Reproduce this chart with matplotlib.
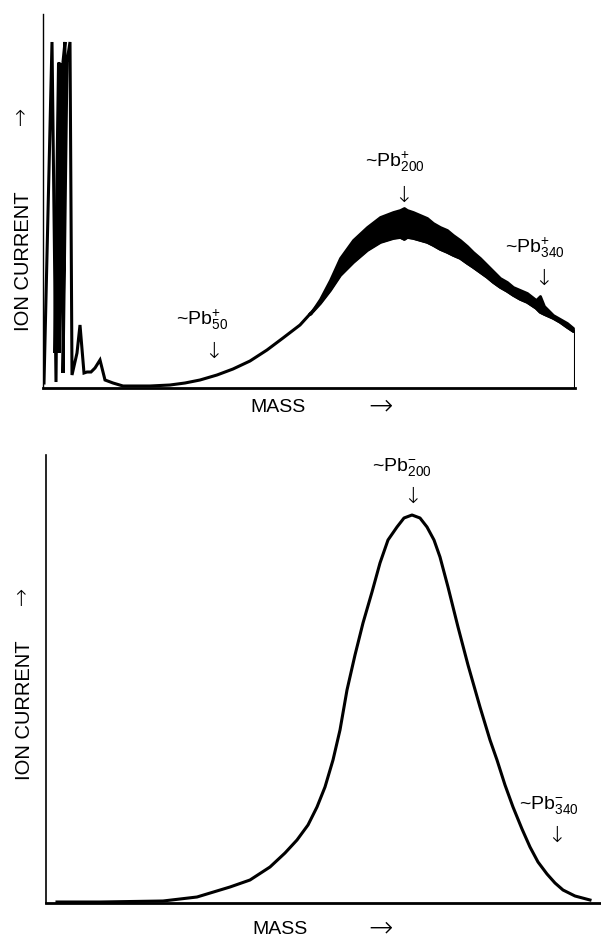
import numpy as np
import matplotlib
matplotlib.use("Agg")
import matplotlib.pyplot as plt

plt.rcParams['font.family'] = ['Liberation Sans', 'DejaVu Sans']
plt.rcParams['mathtext.fontset'] = 'custom'
plt.rcParams['mathtext.rm'] = 'Liberation Sans'
plt.rcParams['mathtext.it'] = 'Liberation Sans'

# --- positive ions (top) : arbitrary mass / current units ---
pos_mass = [1, 9, 13, 16, 18, 20, 22, 20, 24, 27, 29, 34, 37, 41, 44, 48, 52, 57, 62,
            70, 80, 107, 127, 142, 157, 174, 190, 207, 224, 240, 257, 267]
pos_curr = [5, 346, 6, 326, 88, 326, 346, 15, 326, 346, 13, 35, 63, 15, 16, 16, 20, 28, 8,
            5, 2, 2, 3, 5, 8, 13, 19, 27, 38, 50, 63, 74]

# dense unresolved bundle of low-mass peaks
bundle_mass = [10, 14, 25, 18]
bundle_curr = [35, 325, 325, 35]

band_mass = [267, 277, 287, 297, 310, 324, 337, 350, 357, 361, 364, 370, 377, 384, 390, 397,
             404, 410, 417, 424, 430, 437, 444, 450, 457, 464, 470, 477, 484, 493, 497,
             501, 510, 517, 524, 530]
band_upper = [74, 89, 108, 130, 148, 161, 171, 176, 178, 180, 178, 176, 173, 170, 165, 161,
              158, 153, 148, 142, 136, 130, 123, 117, 110, 106, 101, 98, 95, 88, 92,
              82, 73, 69, 65, 60]
band_lower = [74, 85, 98, 113, 126, 138, 146, 150, 151, 149, 151, 150, 148, 146, 143, 139,
              136, 133, 130, 125, 121, 116, 111, 106, 101, 97, 93, 89, 86, 80, 76,
              74, 70, 66, 61, 57]
end_mass = [530, 532, 532]
end_curr = [57, 57, 0]

# --- negative ions (bottom) ---
neg_mass = [11, 54, 117, 151, 184, 204, 224, 239, 251, 262, 271, 279, 287, 294, 301, 309,
            317, 326, 334, 342, 351, 358, 366, 374, 381, 388, 394, 402, 412, 422, 434,
            444, 451, 459, 467, 476, 484, 492, 501, 509, 517, 529, 544]
neg_curr = [1, 1, 2, 6, 16, 23, 36, 50, 63, 78, 96, 116, 143, 173, 213, 248,
            280, 311, 340, 363, 376, 385, 388, 385, 376, 363, 346, 316, 276, 238, 196,
            163, 143, 118, 96, 74, 56, 41, 29, 20, 13, 7, 3]

W, H = 601, 941
fig = plt.figure(figsize=(W / 100, H / 100), dpi=100)

def box(x0, y0, x1, y1):
    return [x0 / W, 1 - y1 / H, (x1 - x0) / W, (y1 - y0) / H]

def ftext(x, y, s, **kw):
    kw.setdefault('fontsize', 14)
    kw.setdefault('ha', 'center')
    kw.setdefault('va', 'center')
    fig.text(x / W, 1 - y / H, s, **kw)

def arrow(x, y, s, size=16):
    ftext(x, y, s, fontsize=size, family=['DejaVu Sans'], fontweight='light')

ax1 = fig.add_axes(box(43, 14, 575, 388))
ax1.plot(pos_mass, pos_curr, color='black', lw=2.2, solid_joinstyle='miter')
ax1.fill(bundle_mass, bundle_curr, color='black', lw=0)
ax1.fill_between(band_mass, band_lower, band_upper, color='black', lw=2.0)
ax1.plot(band_mass, band_lower, color='black', lw=2.2)
ax1.plot(end_mass, end_curr, color='black', lw=1.5)
ax1.set_xlim(0, 532)
ax1.set_ylim(0, 374)

ax2 = fig.add_axes(box(46, 455, 601, 903))
ax2.plot(neg_mass, neg_curr, color='black', lw=2.2)
ax2.set_xlim(0, 555)
ax2.set_ylim(0, 448)

for ax, lw_left in ((ax1, 1.0), (ax2, 1.2)):
    ax.spines['top'].set_visible(False)
    ax.spines['right'].set_visible(False)
    ax.spines['left'].set_linewidth(lw_left)
    ax.spines['bottom'].set_linewidth(2.0)
    ax.set_xticks([])
    ax.set_yticks([])
    ax.patch.set_alpha(0)

# axis labels
ftext(24, 261, 'ION CURRENT', rotation=90, fontsize=14.5)
arrow(19, 120, '\u2191')
ftext(278, 407, 'MASS')
arrow(380, 406, '\u2192', size=21)

ftext(25, 710, 'ION CURRENT', rotation=90, fontsize=14.5)
arrow(20, 600, '\u2191')
ftext(280, 930, 'MASS')
arrow(381, 928, '\u2192', size=21)

# peak labels
ftext(202, 320, r'~Pb$^{+}_{50}$')
arrow(213, 352, '\u2193')
ftext(395, 162, r'~Pb$^{+}_{200}$')
arrow(403, 196, '\u2193')
ftext(535, 248, r'~Pb$^{+}_{340}$')
arrow(543, 279, '\u2193')

ftext(402, 467, r'~Pb$^{-}_{200}$')
arrow(412, 497, '\u2193')
ftext(549, 805, r'~Pb$^{-}_{340}$')
arrow(556, 836, '\u2193')

fig.savefig('out.png', dpi=100)
